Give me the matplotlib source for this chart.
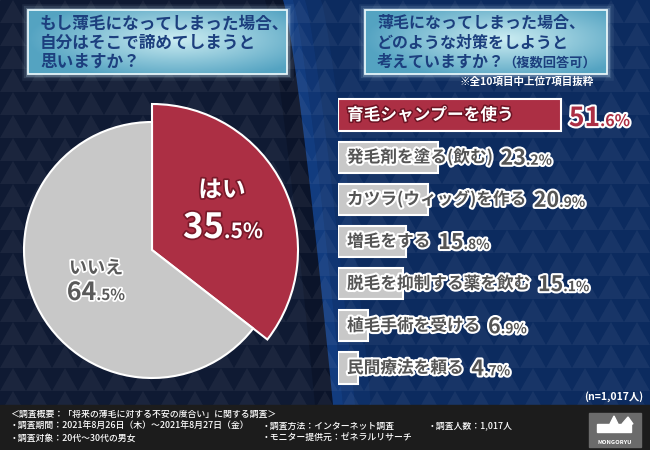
import numpy as np
import matplotlib
matplotlib.use('Agg')
import matplotlib.pyplot as plt
from matplotlib import patheffects as pe
from matplotlib.patches import Rectangle, Polygon
from matplotlib.collections import PolyCollection

plt.rcParams['font.family'] = ['Noto Sans CJK JP', 'DejaVu Sans']
plt.rcParams['font.weight'] = 'bold'

# ---------------- data ----------------
pie_labels = ['はい', 'いいえ']
pie_values = [35.5, 64.5]

bar_labels = ['育毛シャンプーを使う', '発毛剤を塗る(飲む)', 'カツラ(ウィッグ)を作る',
              '増毛をする', '脱毛を抑制する薬を飲む', '植毛手術を受ける', '民間療法を頼る']
bar_values = [51.6, 23.2, 20.9, 15.8, 15.1, 6.9, 4.7]

title_left = ['もし薄毛になってしまった場合、', '自分はそこで諦めてしまうと', '思いますか？']
title_right = ['薄毛になってしまった場合、', 'どのような対策をしようと', '考えていますか？']
title_right_note = '（複数回答可）'
note_top = '※全10項目中上位7項目抜粋'
n_note = '(n=1,017人)'
footer_head = '＜調査概要：「将来の薄毛に対する不安の度合い」に関する調査＞'
footer_items = ['・調査期間：2021年8月26日（木）～2021年8月27日（金）',
                '・調査方法：インターネット調査',
                '・調査人数：1,017人',
                '・調査対象：20代～30代の男女',
                '・モニター提供元：ゼネラルリサーチ']

RED = '#ac2f44'
GREY = '#c8c8c8'
DARK = '#555555'

fig = plt.figure(figsize=(6.5, 4.5), dpi=100)

# ---------------- background ----------------
ax_bg = fig.add_axes([0, 0, 1, 1])
ax_bg.set_xlim(0, 650)
ax_bg.set_ylim(450, 0)
ax_bg.axis('off')
ax_bg.add_patch(Rectangle((0, 0), 650, 405, color='#0f1a33', zorder=0))

ys = np.linspace(0, 405, 60)
xb = 283 + 50 * (ys / 405) ** 0.8
right_poly = list(zip(xb, ys)) + [(650, 405), (650, 0)]
ax_bg.add_patch(Polygon(right_poly, closed=True, color='#0c2b5f', zorder=1, lw=0))
for a, b, al in [(0, 10, 0.4), (10, 22, 0.25), (22, 38, 0.12)]:
    band = list(zip(xb + a, ys)) + list(zip((xb + b)[::-1], ys[::-1]))
    ax_bg.add_patch(Polygon(band, closed=True, color='#1d56b0', alpha=al, zorder=1.5, lw=0))
shadow = list(zip(xb - 18, ys)) + list(zip(xb[::-1], ys[::-1]))
ax_bg.add_patch(Polygon(shadow, closed=True, color='#050b1a', alpha=0.35, zorder=1.5, lw=0))

# triangle pattern
h, w = 23, 26
tris_up = []
for j in range(int(405 / h) + 1):
    y0, y1 = j * h, (j + 1) * h
    for i in range(-1, int(650 / w) + 2):
        x0 = i * w
        tris_up.append([(x0, y1), (x0 + w, y1), (x0 + w / 2, y0)])
pc = PolyCollection(tris_up, facecolors='white', alpha=0.05, edgecolors='none', zorder=2)
ax_bg.add_collection(pc)
pc.set_clip_path(Rectangle((0, 0), 650, 405, transform=ax_bg.transData))

# footer
ax_bg.add_patch(Rectangle((0, 405), 650, 45, color='#1c1c1c', zorder=3))


def title_box(ax, x0, y0, x1, y1):
    for lw, al in [(9, 0.07), (6, 0.12), (3.5, 0.25)]:
        ax.add_patch(Rectangle((x0, y0), x1 - x0, y1 - y0, fill=False, ec='#cfeeff',
                               lw=lw, alpha=al, zorder=4))
    nx, ny = 200, 60
    u = np.linspace(-1, 1, nx)
    v = np.linspace(-1, 1, ny)
    U, V = np.meshgrid(u, v)
    d = np.clip(np.sqrt(((U - 0.15) / 1.15) ** 2 + ((V + 0.1) / 1.3) ** 2), 0, 1)
    light = np.array([0.80, 0.93, 0.95])
    dark = np.array([0.33, 0.64, 0.76])
    img = light[None, None, :] * (1 - d[..., None]) + dark[None, None, :] * d[..., None]
    im = ax.imshow(img, extent=(x0, x1, y1, y0), zorder=5, aspect='auto')
    rect = Rectangle((x0, y0), x1 - x0, y1 - y0, transform=ax.transData)
    im.set_clip_path(rect)
    ax.add_patch(Rectangle((x0, y0), x1 - x0, y1 - y0, fill=False, ec='#e6f6fa', lw=1.3, zorder=6))


title_box(ax_bg, 28, 10, 287, 74)
title_box(ax_bg, 365, 10, 607, 74)
ax_bg.set_xlim(0, 650)
ax_bg.set_ylim(450, 0)

# logo
ax_bg.add_patch(Rectangle((589, 413), 52, 34, color='#6b6b6b', zorder=6))
ax_bg.add_patch(Rectangle((597, 424), 34, 8, color='white', zorder=7))
ax_bg.add_patch(Polygon([(610, 424), (614, 416), (618, 424)], color='white', zorder=7))
ax_bg.add_patch(Polygon([(622, 424), (628, 417), (633, 424)], color='white', zorder=7))
ax_bg.text(615, 442, 'MONGORYU', fontsize=4.2, color='white', ha='center', va='center', zorder=8)

# ---------------- pie ----------------
ax_pie = fig.add_axes([0, 50 / 450, 300 / 650, 300 / 450])
ax_pie.set_facecolor('none')
R = 128.0
w1, _ = ax_pie.pie(pie_values, colors=[RED, GREY], startangle=90, counterclock=False,
                   radius=146 / R, wedgeprops=dict(edgecolor='white', linewidth=1.5))
w1[1].set_visible(False)
w2, _ = ax_pie.pie(pie_values, colors=[RED, GREY], startangle=90, counterclock=False,
                   radius=1.0, wedgeprops=dict(edgecolor='white', linewidth=1.5))
w2[0].set_visible(False)
ax_pie.set_xlim(-152 / R, 148 / R)
ax_pie.set_ylim(-150 / R, 150 / R)
ax_pie.axis('off')

# ---------------- bars ----------------
ax_bar = fig.add_axes([338 / 650, (450 - 389) / 450, 312 / 650, 295 / 450])
ax_bar.set_facecolor('none')
n = len(bar_values)
ax_bar.barh(range(n), bar_values, height=0.74, color=[RED] + [GREY] * (n - 1),
            edgecolor='white', linewidth=1.5)
ax_bar.set_xlim(0, 312 / 4.32)
ax_bar.set_ylim(n - 0.5, -0.5)
ax_bar.axis('off')

# ---------------- overlay text ----------------
ax_top = fig.add_axes([0, 0, 1, 1])
ax_top.set_xlim(0, 650)
ax_top.set_ylim(450, 0)
ax_top.axis('off')
ax_top.set_facecolor('none')
renderer = fig.canvas.get_renderer()


def stroke(c, lw):
    return [pe.withStroke(linewidth=lw, foreground=c)]


def split_text(x, y, parts, ha, color, sc, lw):
    texts, widths = [], []
    for s, size in parts:
        t = ax_top.text(0, y, s, fontsize=size, color=color, va='baseline', ha='left',
                        path_effects=stroke(sc, lw), zorder=20)
        widths.append(t.get_window_extent(renderer).width)
        texts.append(t)
    total = sum(widths)
    cur = x - total / 2 if ha == 'center' else x
    for t, wd in zip(texts, widths):
        t.set_x(cur)
        cur += wd
    return cur


def val_parts(v, big, small):
    s = f'{v:.1f}'
    a, b = s.split('.')
    return [(a, big), ('.' + b + '%', small)]


# titles
for k, line in enumerate(title_left):
    ax_top.text(40, 24 + k * 18.8, line, fontsize=12, color='#1c3f7e', va='center', ha='left')
for k, line in enumerate(title_right):
    t = ax_top.text(377, 23 + k * 19.5, line, fontsize=11.5, color='#1c3f7e', va='center', ha='left')
bb = t.get_window_extent(renderer)
ax_top.text(bb.x1 - 2, 23 + 2 * 19.5 + 1, title_right_note, fontsize=9.5, color='#1c3f7e',
            va='center', ha='left')
ax_top.text(594, 82, note_top, fontsize=7.6, color='white', va='center', ha='right')

# pie labels
ax_top.text(222, 190, pie_labels[0], fontsize=17, color='white', ha='center', va='center',
            path_effects=stroke('#7a1a2a', 2.5), zorder=20)
split_text(223, 238, val_parts(pie_values[0], 25, 15), 'center', 'white', '#7a1a2a', 2.5)
ax_top.text(96, 268, pie_labels[1], fontsize=13, color='#5a5a5a', ha='center', va='center',
            path_effects=stroke('white', 2.5), zorder=20)
split_text(96, 300, val_parts(pie_values[1], 18, 11), 'center', '#5a5a5a', 'white', 2.5)

# bar labels and values
for i, (lab, v) in enumerate(zip(bar_labels, bar_values)):
    yc = 450 - ax_bar.transData.transform((0, i))[1]
    xe = ax_bar.transData.transform((v, i))[0]
    if i == 0:
        t = ax_top.text(347, yc, lab, fontsize=12, color='white', va='center', ha='left',
                        path_effects=stroke('#6e1424', 2.2), zorder=20)
    else:
        t = ax_top.text(347, yc, lab, fontsize=12, color=DARK, va='center', ha='left',
                        path_effects=stroke('white', 3), zorder=20)
    le = t.get_window_extent(renderer).x1
    xs = max(xe, le) + 8
    if i == 0:
        split_text(xs, yc + 11, val_parts(v, 19, 11.5), 'left', RED, 'white', 3)
    else:
        split_text(xs, yc + 7.5, val_parts(v, 15.5, 10), 'left', DARK, 'white', 3)

ax_top.text(643, 397, n_note, fontsize=7.5, color='white', ha='right', va='center')

# footer
fk = dict(fontsize=6.4, color='white', va='center', ha='left', fontweight='medium')
ax_top.text(10, 414, footer_head, **fk)
ax_top.text(10, 426, footer_items[0], **fk)
ax_top.text(262, 426, footer_items[1], **fk)
ax_top.text(428, 426, footer_items[2], **fk)
ax_top.text(10, 438, footer_items[3], **fk)
ax_top.text(262, 438, footer_items[4], **fk)

fig.savefig('out.png', dpi=100)
